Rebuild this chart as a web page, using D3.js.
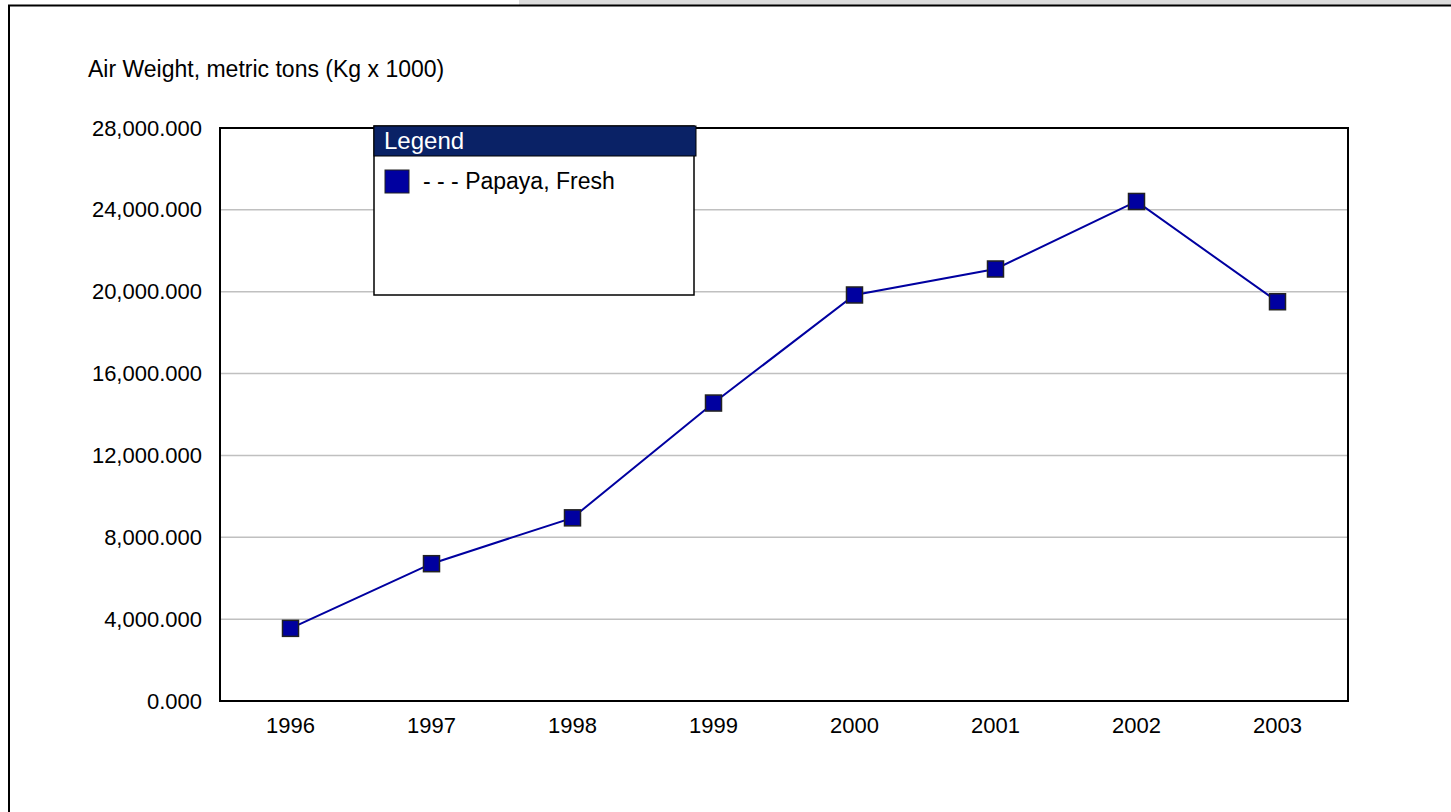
<!DOCTYPE html>
<html>
<head>
<meta charset="utf-8">
<script src="https://cdn.jsdelivr.net/npm/d3@7"></script>
<style>
  body { margin: 0; background: #fff; }
  svg { display: block; font-family: "Liberation Sans", Arial, sans-serif; }
</style>
</head>
<body>
<svg id="chart" width="1451" height="812"></svg>
<script>
// data
var years = ["1996", "1997", "1998", "1999", "2000", "2001", "2002", "2003"];
var airWeight = [3550, 6710, 8950, 14560, 19840, 21110, 24410, 19510];
var yTicks = [0, 4000, 8000, 12000, 16000, 20000, 24000, 28000];
var seriesName = "Papaya, Fresh";
var yTitle = "Air Weight, metric tons (Kg x 1000)";

var svg = d3.select("#chart");
var margin = {left: 220, top: 128, right: 1348, bottom: 701};

// top grey strip and outer frame
svg.append("rect")
	.attr("x", 519).attr("y", 0)
	.attr("width", 932).attr("height", 5)
	.attr("fill", "#dcdcdc");
svg.append("path")
	.attr("d", "M9,812 V5.5 H1451")
	.attr("fill", "none")
	.attr("stroke", "#000")
	.attr("stroke-width", 2);

var x = d3.scaleBand().domain(years).range([margin.left, margin.right]);
var y = d3.scaleLinear().domain([0, 28000]).range([margin.bottom, margin.top]);

// gridlines
svg.selectAll(".grid")
		.data(yTicks.slice(1, -1))
	.enter().append("line")
		.attr("x1", margin.left)
		.attr("x2", margin.right)
		.attr("y1", function(d) { return y(d); })
		.attr("y2", function(d) { return y(d); })
		.attr("stroke", "#c0c0c0")
		.attr("stroke-width", 1.5);

// plot frame
svg.append("rect")
	.attr("x", margin.left).attr("y", margin.top)
	.attr("width", margin.right - margin.left)
	.attr("height", margin.bottom - margin.top)
	.attr("fill", "none")
	.attr("stroke", "#000")
	.attr("stroke-width", 2);

// y labels
var fmt = d3.format(",.3f");
var yAxis = d3.axisLeft(y).tickValues(yTicks).tickFormat(fmt).tickSize(0).tickPadding(18);
var gy = svg.append("g").attr("transform", "translate(" + margin.left + ",0)").call(yAxis);
gy.select(".domain").remove();
gy.selectAll("text")
	.style("font-size", "22px")
	.style("font-family", "Liberation Sans, Arial, sans-serif")
	.attr("fill", "#000");

// x labels
var xAxis = d3.axisBottom(x).tickSize(0).tickPadding(16);
var gx = svg.append("g").attr("transform", "translate(0," + margin.bottom + ")").call(xAxis);
gx.select(".domain").remove();
gx.selectAll("text")
	.style("font-size", "22px")
	.style("font-family", "Liberation Sans, Arial, sans-serif")
	.attr("fill", "#000");

// axis title
svg.append("text")
	.attr("x", 88).attr("y", 77)
	.style("font-size", "23px")
	.text(yTitle);

// line + markers
var pts = years.map(function(d, i) { return {year: d, v: airWeight[i]}; });
var line = d3.line()
	.x(function(d) { return x(d.year) + x.bandwidth() / 2; })
	.y(function(d) { return y(d.v); });

svg.append("path")
	.datum(pts)
	.attr("d", line)
	.attr("fill", "none")
	.attr("stroke", "#0000a0")
	.attr("stroke-width", 2);

var ms = 16;
svg.selectAll(".marker")
		.data(pts)
	.enter().append("rect")
		.attr("x", function(d) { return x(d.year) + x.bandwidth() / 2 - ms / 2; })
		.attr("y", function(d) { return y(d.v) - ms / 2; })
		.attr("width", ms).attr("height", ms)
		.attr("fill", "#0000a0")
		.attr("stroke", "#222")
		.attr("stroke-width", 1.5);

// legend
var lg = svg.append("g").attr("transform", "translate(374,126)");
lg.append("rect")
	.attr("x", 0).attr("y", 0)
	.attr("width", 320).attr("height", 169)
	.attr("fill", "#fff")
	.attr("stroke", "#000")
	.attr("stroke-width", 1.5);
lg.append("rect")
	.attr("x", 0).attr("y", 0)
	.attr("width", 322).attr("height", 30)
	.attr("fill", "#0a2266")
	.attr("stroke", "#000")
	.attr("stroke-width", 1);
lg.append("text")
	.attr("x", 10).attr("y", 23)
	.attr("fill", "#fff")
	.style("font-size", "24px")
	.text("Legend");
lg.append("rect")
	.attr("x", 11).attr("y", 44)
	.attr("width", 24).attr("height", 23)
	.attr("fill", "#0000a0")
	.attr("stroke", "#222")
	.attr("stroke-width", 1);
lg.append("text")
	.attr("x", 49).attr("y", 63)
	.style("font-size", "23px")
	.text("- - - " + seriesName);
</script>
</body>
</html>
